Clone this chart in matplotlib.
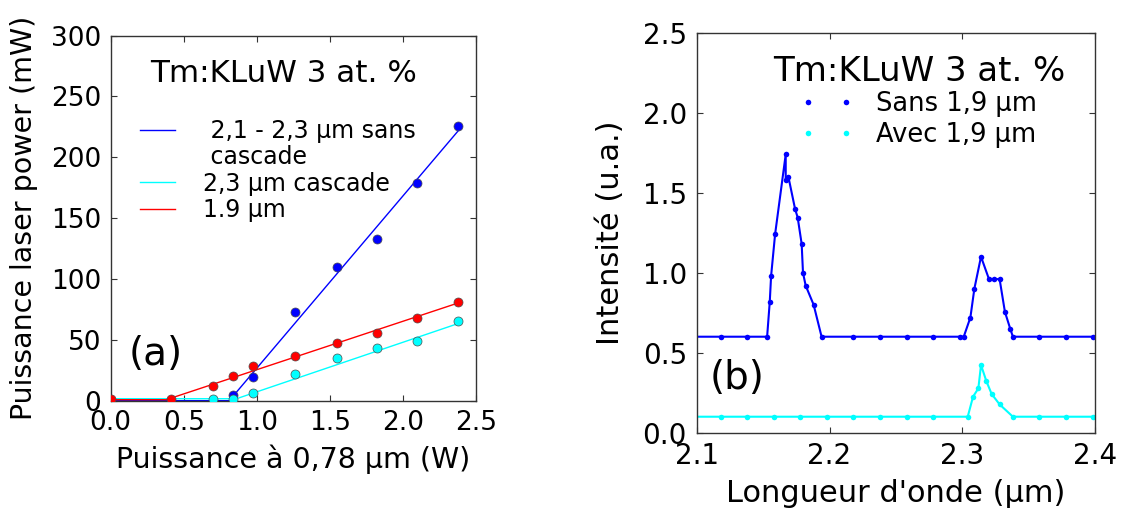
import matplotlib
matplotlib.use('Agg')
from matplotlib import pyplot as plt

plt.rcParams['font.family'] = ['DejaVu Sans']

# (a) puissance laser en fonction de la puissance de pompe
pompe_bleu = [0.837, 0.974, 1.26, 1.544, 1.821, 2.094, 2.377]
puiss_bleu = [4.4, 19.7, 73.2, 110, 133, 179, 226]
pompe_rouge = [0.0, 0.41, 0.70, 0.837, 0.974, 1.26, 1.544, 1.821, 2.094, 2.377]
puiss_rouge = [1.4, 1.4, 12.2, 20, 28.7, 36.3, 47.7, 55.4, 68.2, 81.4]
pompe_cyan = [0.70, 0.837, 0.974, 1.26, 1.544, 1.821, 2.094, 2.377]
puiss_cyan = [1.4, 1.4, 6.3, 21.8, 35.3, 43, 49.3, 65.5]

# droites d'ajustement (seuil puis pente)
fit_x_bleu = [0, 0.81, 2.38]
fit_y_bleu = [0, 0, 222.5]
fit_x_rouge = [0, 0.38, 2.38]
fit_y_rouge = [0.8, 0.8, 80.5]
fit_x_cyan = [0, 0.86, 2.38]
fit_y_cyan = [1.6, 1.6, 63.6]

# (b) spectres
lam_sans = [2.098, 2.118, 2.138, 2.153, 2.155, 2.156, 2.159, 2.167, 2.167, 2.169,
            2.174, 2.176, 2.179, 2.180, 2.182, 2.188, 2.194, 2.218, 2.238, 2.258,
            2.278, 2.298, 2.301, 2.306, 2.309, 2.314, 2.320, 2.324, 2.328, 2.332,
            2.336, 2.338, 2.358, 2.378, 2.398, 2.418]
int_sans = [0.6, 0.6, 0.6, 0.6, 0.82, 0.98, 1.24, 1.74, 1.58, 1.60,
            1.40, 1.345, 1.18, 1.00, 0.92, 0.80, 0.60, 0.6, 0.6, 0.6,
            0.6, 0.6, 0.6, 0.72, 0.90, 1.10, 0.96, 0.96, 0.96, 0.755,
            0.65, 0.6, 0.6, 0.6, 0.6, 0.6]
lam_avec = [2.098, 2.118, 2.138, 2.158, 2.178, 2.198, 2.218, 2.238, 2.258, 2.278,
            2.304, 2.308, 2.312, 2.314, 2.318, 2.322, 2.328, 2.338, 2.358, 2.378,
            2.398, 2.418]
int_avec = [0.1, 0.1, 0.1, 0.1, 0.1, 0.1, 0.1, 0.1, 0.1, 0.1,
            0.1, 0.225, 0.277, 0.423, 0.323, 0.242, 0.177, 0.1, 0.1, 0.1,
            0.1, 0.1]

bleu = '#0000ff'
cyan = '#00ffff'
rouge = '#ff0000'

fig = plt.figure(figsize=(11.23, 5.08), dpi=100)
ax1 = fig.add_axes([0.0986, 0.2113, 0.3257, 0.7185])
ax2 = fig.add_axes([0.6204, 0.1482, 0.3549, 0.7874])

for ax in (ax1, ax2):
    ax.tick_params(direction='in', top=True, right=True, length=4, width=0.8, color='0.2')
    for s in ax.spines.values():
        s.set_color('0.2')
        s.set_linewidth(1.0)

# ---- (a)
ax1.plot(fit_x_bleu, fit_y_bleu, color=bleu, lw=1.0, label=' 2,1 - 2,3 µm sans', zorder=2)
ax1.plot([], [], color='none', label=' cascade')
ax1.plot(fit_x_cyan, fit_y_cyan, color=cyan, lw=1.0, label='2,3 µm cascade', zorder=2)
ax1.plot(fit_x_rouge, fit_y_rouge, color=rouge, lw=1.0, label='1.9 µm', zorder=2)
ax1.plot(pompe_bleu, puiss_bleu, 'o', color=bleu, ms=6.5, mec='0.3', mew=0.5, zorder=3)
ax1.plot(pompe_cyan, puiss_cyan, 'o', color=cyan, ms=6.5, mec='0.3', mew=0.5, zorder=3)
ax1.plot(pompe_rouge, puiss_rouge, 'o', color=rouge, ms=6.5, mec='0.3', mew=0.5, zorder=3)
ax1.set_xlim(0, 2.5)
ax1.set_ylim(0, 300)
ax1.set_xticks([0.0, 0.5, 1.0, 1.5, 2.0, 2.5])
ax1.set_xticklabels(['0.0', '0.5', '1.0', '1.5', '2.0', '2.5'])
ax1.set_yticks([0, 50, 100, 150, 200, 250, 300])
ax1.tick_params(labelsize=19, pad=7)
ax1.set_xlabel('Puissance à 0,78 µm (W)', fontsize=20.5)
ax1.set_ylabel('Puissance laser power (mW)', fontsize=20.5)
ax1.xaxis.set_label_coords(0.5, -0.12)
ax1.yaxis.set_label_coords(-0.2, 0.5)
ax1.text(0.109, 0.874, 'Tm:KLuW 3 at. %', transform=ax1.transAxes, fontsize=22.3,
         ha='left', va='baseline')
ax1.text(0.05, 0.098, '(a)', transform=ax1.transAxes, fontsize=28, ha='left', va='baseline')
ax1.legend(loc='upper left', bbox_to_anchor=(0.08, 0.772), frameon=False, fontsize=17,
           handlelength=1.48, handletextpad=1.17, labelspacing=0.1, borderpad=0,
           borderaxespad=0)

# ---- (b)
ax2.plot(lam_sans, int_sans, '-', color=bleu, lw=1.5)
ax2.plot(lam_sans, int_sans, 'o', color=bleu, ms=4, mew=0, label='Sans 1,9 µm')
ax2.plot(lam_avec, int_avec, '-', color=cyan, lw=1.5)
ax2.plot(lam_avec, int_avec, 'o', color=cyan, ms=4, mew=0, label='Avec 1,9 µm')
ax2.set_xlim(2.1, 2.4)
ax2.set_ylim(0, 2.5)
ax2.set_xticks([2.1, 2.2, 2.3, 2.4])
ax2.set_xticklabels(['2.1', '2.2', '2.3', '2.4'])
ax2.set_yticks([0.0, 0.5, 1.0, 1.5, 2.0, 2.5])
ax2.set_yticklabels(['0.0', '0.5', '1.0', '1.5', '2.0', '2.5'])
ax2.tick_params(labelsize=20, pad=7)
ax2.set_xlabel("Longueur d'onde (µm)", fontsize=22)
ax2.set_ylabel('Intensité (u.a.)', fontsize=22)
ax2.xaxis.set_label_coords(0.5, -0.116)
ax2.yaxis.set_label_coords(-0.18, 0.5)
ax2.text(0.192, 0.879, 'Tm:KLuW 3 at. %', transform=ax2.transAxes, fontsize=24.5,
         ha='left', va='baseline')
ax2.text(0.033, 0.1085, '(b)', transform=ax2.transAxes, fontsize=28, ha='left', va='baseline')
ax2.legend(loc='upper left', bbox_to_anchor=(0.261, 0.854), frameon=False, fontsize=18.5,
           numpoints=2, handlelength=2.05, handletextpad=0.88, labelspacing=0.2,
           borderpad=0, borderaxespad=0)

fig.savefig('out.png', dpi=100, facecolor='white')
